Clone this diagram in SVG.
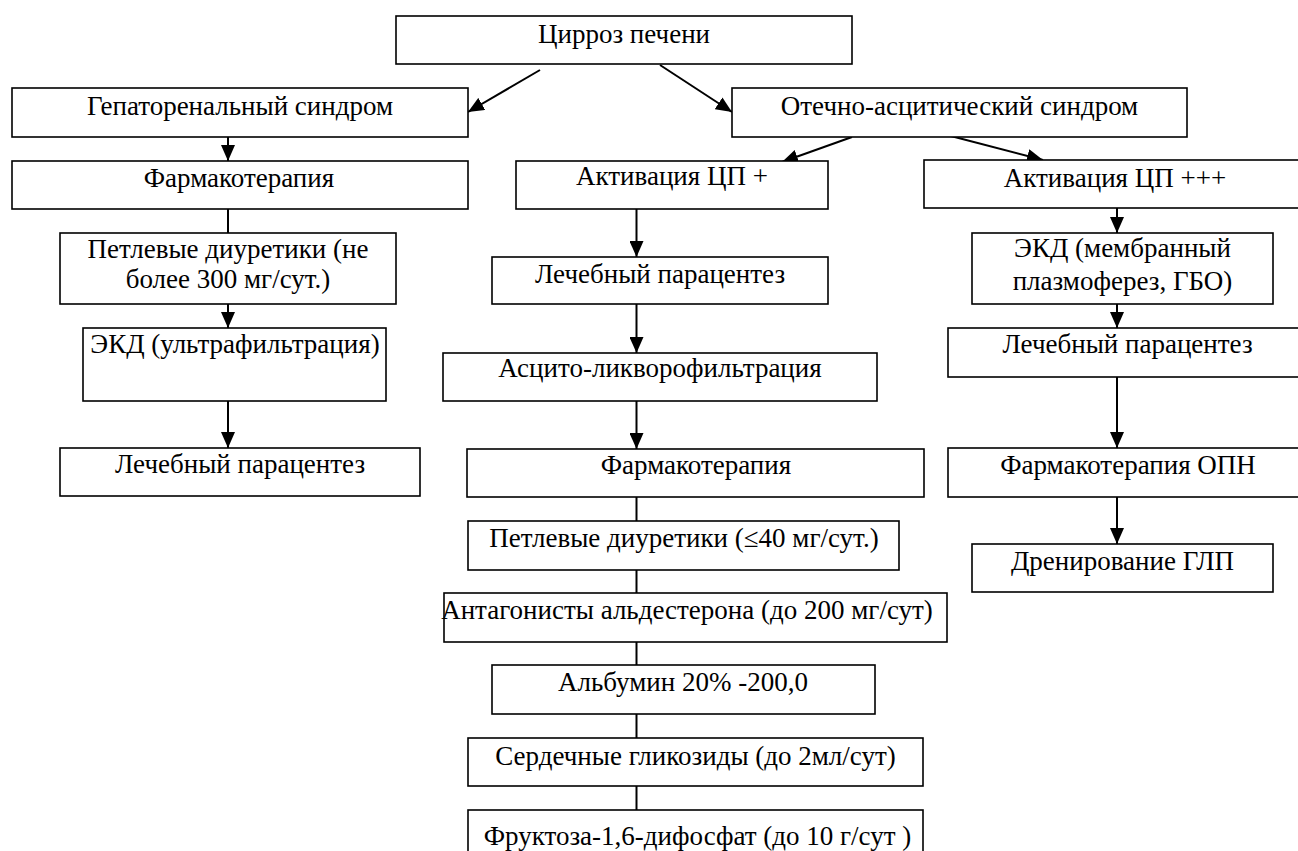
<svg xmlns="http://www.w3.org/2000/svg" width="1298" height="851" viewBox="0 0 1298 851">
<style>
.b{fill:#fff;stroke:#000;stroke-width:1.6}
.t{font-family:"Liberation Serif","Times New Roman",serif;font-size:27px;fill:#000;text-anchor:middle}
.c{stroke:#000;stroke-width:2;fill:none}
</style>
<defs>
<marker id="ah" markerUnits="userSpaceOnUse" markerWidth="16" markerHeight="14" refX="16" refY="7" orient="auto"><path d="M0,0 L16,7 L0,14 z" fill="#000"/></marker>
</defs>
<rect width="1298" height="851" fill="#fff"/>
<g id="connectors">
<line class="c" x1="540" y1="70" x2="468" y2="112" marker-end="url(#ah)"/>
<line class="c" x1="660" y1="65" x2="732" y2="112" marker-end="url(#ah)"/>
<line class="c" x1="228" y1="137" x2="228" y2="161" marker-end="url(#ah)"/>
<line class="c" x1="228" y1="209" x2="228" y2="233"/>
<line class="c" x1="228" y1="304" x2="228" y2="328" marker-end="url(#ah)"/>
<line class="c" x1="228" y1="401" x2="228" y2="448" marker-end="url(#ah)"/>
<line class="c" x1="852" y1="137" x2="782" y2="162" marker-end="url(#ah)"/>
<line class="c" x1="947" y1="135" x2="1043" y2="160" marker-end="url(#ah)"/>
<line class="c" x1="636.5" y1="209" x2="636.5" y2="257" marker-end="url(#ah)"/>
<line class="c" x1="636.5" y1="304" x2="636.5" y2="353" marker-end="url(#ah)"/>
<line class="c" x1="636.5" y1="401" x2="636.5" y2="449" marker-end="url(#ah)"/>
<line class="c" x1="636.5" y1="497" x2="636.5" y2="521"/>
<line class="c" x1="636.5" y1="570" x2="636.5" y2="593"/>
<line class="c" x1="636.5" y1="642" x2="636.5" y2="665"/>
<line class="c" x1="636.5" y1="714" x2="636.5" y2="738"/>
<line class="c" x1="636.5" y1="786" x2="636.5" y2="810"/>
<line class="c" x1="1117" y1="208" x2="1117" y2="233" marker-end="url(#ah)"/>
<line class="c" x1="1117" y1="304" x2="1117" y2="328" marker-end="url(#ah)"/>
<line class="c" x1="1117" y1="377" x2="1117" y2="448" marker-end="url(#ah)"/>
<line class="c" x1="1117" y1="497" x2="1117" y2="544" marker-end="url(#ah)"/>
</g>
<g id="n-cirrhosis"><rect class="b" x="396" y="16" width="456" height="48"/><text class="t" x="624" y="43">Цирроз печени</text></g>
<g id="n-hepatorenal"><rect class="b" x="12" y="88" width="456" height="49"/><text class="t" x="240" y="115">Гепаторенальный синдром</text></g>
<g id="n-edema"><rect class="b" x="732" y="88" width="455" height="49"/><text class="t" x="959.5" y="115">Отечно-асцитический синдром</text></g>
<g id="n-pharm-left"><rect class="b" x="12" y="161" width="456" height="48"/><text class="t" x="239" y="187">Фармакотерапия</text></g>
<g id="n-loop-left"><rect class="b" x="60" y="233" width="336" height="71"/><text class="t" x="228" y="258">Петлевые диуретики (не</text><text class="t" x="228" y="288">более 300 мг/сут.)</text></g>
<g id="n-ekd-uf"><rect class="b" x="83" y="328" width="303" height="73"/><text class="t" x="235" y="353">ЭКД (ультрафильтрация)</text></g>
<g id="n-paracentesis-left"><rect class="b" x="60" y="448" width="360" height="48"/><text class="t" x="240" y="473">Лечебный парацентез</text></g>
<g id="n-act-plus"><rect class="b" x="516" y="161" width="312" height="48"/><text class="t" x="672" y="185">Активация ЦП +</text></g>
<g id="n-paracentesis-mid"><rect class="b" x="492" y="257" width="336" height="47"/><text class="t" x="660" y="283">Лечебный парацентез</text></g>
<g id="n-ascito"><rect class="b" x="443" y="353" width="434" height="48"/><text class="t" x="660" y="377">Асцито-ликворофильтрация</text></g>
<g id="n-pharm-mid"><rect class="b" x="467" y="449" width="457" height="48"/><text class="t" x="696" y="474">Фармакотерапия</text></g>
<g id="n-loop-mid"><rect class="b" x="468" y="521" width="431" height="49"/><text class="t" x="684" y="547">Петлевые диуретики (≤40 мг/сут.)</text></g>
<g id="n-antag"><rect class="b" x="444" y="593" width="503" height="49"/><text class="t" x="687" y="619">Антагонисты альдестерона (до 200 мг/сут)</text></g>
<g id="n-albumin"><rect class="b" x="492" y="665" width="383" height="49"/><text class="t" x="683" y="691">Альбумин 20% -200,0</text></g>
<g id="n-glycosides"><rect class="b" x="468" y="738" width="455" height="48"/><text class="t" x="695.5" y="765">Сердечные гликозиды (до 2мл/сут)</text></g>
<g id="n-fructose"><rect class="b" x="468" y="810" width="455" height="50"/><text class="t" x="697.5" y="845">Фруктоза-1,6-дифосфат (до 10 г/сут )</text></g>
<g id="n-act-ppp"><rect class="b" x="924" y="160" width="382" height="48"/><text class="t" x="1115" y="187">Активация ЦП +++</text></g>
<g id="n-ekd-mem"><rect class="b" x="972" y="233" width="301" height="71"/><text class="t" x="1122.5" y="257">ЭКД (мембранный</text><text class="t" x="1122.5" y="290">плазмоферез, ГБО)</text></g>
<g id="n-paracentesis-right"><rect class="b" x="948" y="328" width="360" height="49"/><text class="t" x="1127.5" y="353">Лечебный парацентез</text></g>
<g id="n-pharm-opn"><rect class="b" x="948" y="448" width="360" height="49"/><text class="t" x="1128" y="474">Фармакотерапия ОПН</text></g>
<g id="n-drain"><rect class="b" x="972" y="544" width="301" height="48"/><text class="t" x="1122.5" y="570">Дренирование ГЛП</text></g>
</svg>
